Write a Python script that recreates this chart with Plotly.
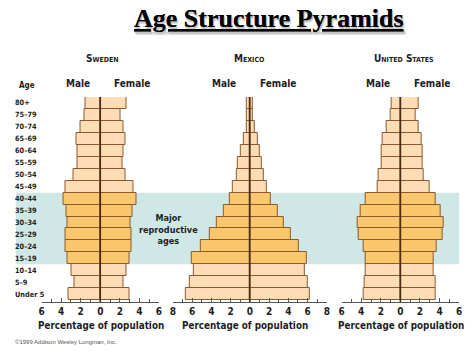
import plotly.graph_objects as go

# Age groups, listed from oldest (top) to youngest (bottom)
ages = ["80+", "75\u201379", "70\u201374", "65\u201369", "60\u201364", "55\u201359",
        "50\u201354", "45\u201349", "40\u201344", "35\u201339", "30\u201334", "25\u201329",
        "20\u201324", "15\u201319", "10\u201314", "5\u20139", "Under 5"]

# Percentage of population in each age group
sweden_male = [1.5, 1.6, 2.0, 2.4, 2.3, 2.3, 2.7, 3.6, 3.8, 3.4, 3.3, 3.5, 3.5, 3.3, 2.9, 2.6, 3.2]
sweden_female = [2.7, 2.1, 2.4, 2.6, 2.4, 2.3, 2.6, 3.4, 3.7, 3.3, 3.1, 3.2, 3.2, 3.0, 2.7, 2.4, 3.0]

mexico_male = [0.3, 0.3, 0.35, 0.65, 0.9, 1.2, 1.4, 1.75, 2.1, 2.7, 3.45, 4.2, 5.1, 6.0, 5.85, 6.25, 6.65]
mexico_female = [0.35, 0.35, 0.5, 0.85, 1.0, 1.25, 1.5, 1.8, 2.2, 2.9, 3.5, 4.3, 5.05, 5.9, 5.7, 6.0, 6.25]

us_male = [0.85, 0.95, 1.4, 1.8, 1.95, 1.95, 2.2, 2.3, 3.5, 4.1, 4.4, 4.25, 3.8, 3.55, 3.5, 3.65, 3.75]
us_female = [1.9, 1.6, 1.85, 2.2, 2.3, 2.25, 2.4, 2.95, 3.65, 4.1, 4.45, 4.35, 3.75, 3.35, 3.35, 3.6, 3.6]

countries = ["Sweden", "Mexico", "United States"]
axis_limits = [6, 8, 6]
tick_values = [[-6, -4, -2, 0, 2, 4, 6], [-8, -6, -4, -2, 0, 2, 4, 6, 8], [-6, -4, -2, 0, 2, 4, 6]]

reproductive = ["40\u201344", "35\u201339", "30\u201334", "25\u201329", "20\u201324", "15\u201319"]

W, H = 474, 355
FONT = "DejaVu Sans Condensed, DejaVu Sans, sans-serif"
INK = "#1e1e1e"
PEACH = "#fddcb6"
ORANGE = "#fbc76c"
BAND = "#cfe7e5"
EDGE = "#8a5a2e"
SPINE = "#4a2a10"

# panel horizontal extents in pixels
panel_px = [(39, 158), (172, 328), (343, 462)]
y_top_px, y_bot_px = 97, 302


def px_x(p):
    return p / W


def px_y(p):
    return 1 - p / H


colors = [ORANGE if a in reproductive else PEACH for a in ages]
data = [(sweden_male, sweden_female), (mexico_male, mexico_female), (us_male, us_female)]

fig = go.Figure()
for i, (male, female) in enumerate(data):
    suffix = "" if i == 0 else str(i + 1)
    fig.add_trace(go.Bar(y=ages, x=[-v for v in male], orientation="h",
                         marker=dict(color=colors, line=dict(color=EDGE, width=1)),
                         xaxis="x" + suffix, yaxis="y" + suffix, showlegend=False,
                         hoverinfo="skip"))
    fig.add_trace(go.Bar(y=ages, x=female, orientation="h",
                         marker=dict(color=colors, line=dict(color=EDGE, width=1)),
                         xaxis="x" + suffix, yaxis="y" + suffix, showlegend=False,
                         hoverinfo="skip"))

layout = dict(width=W, height=H, margin=dict(l=0, r=0, t=0, b=0),
              paper_bgcolor="white", plot_bgcolor="rgba(0,0,0,0)",
              barmode="relative", bargap=0, font=dict(family=FONT, color=INK))

for i in range(3):
    suffix = "" if i == 0 else str(i + 1)
    lim = axis_limits[i]
    x0, x1 = panel_px[i]
    layout["xaxis" + suffix] = dict(
        domain=[px_x(x0), px_x(x1)], range=[-lim, lim], anchor="y" + suffix,
        tickvals=tick_values[i], ticktext=[str(abs(v)) for v in tick_values[i]],
        ticks="inside", ticklen=4, tickcolor="#555", tickwidth=1,
        minor=dict(dtick=1, ticks="inside", ticklen=3, tickcolor="#555"),
        showline=True, linecolor="#555", linewidth=1, showgrid=False, zeroline=False,
        tickfont=dict(size=10, family=FONT, color=INK, weight="bold"), fixedrange=True)
    layout["yaxis" + suffix] = dict(
        domain=[px_y(y_bot_px), px_y(y_top_px)], type="category",
        categoryarray=ages[::-1], range=[-0.65, 16.5], anchor="x" + suffix,
        showticklabels=False, showgrid=False, zeroline=False, showline=False,
        fixedrange=True)
fig.update_layout(**layout)

shapes = []
# reproductive-age band spanning all three panels
lo = ages[::-1].index("15\u201319") - 0.5
hi = ages[::-1].index("40\u201344") + 0.5
shapes.append(dict(type="rect", xref="paper", yref="y", x0=px_x(13), x1=px_x(462),
                   y0=lo, y1=hi, fillcolor=BAND, line=dict(width=0), layer="below"))
for i in range(3):
    suffix = "" if i == 0 else str(i + 1)
    shapes.append(dict(type="line", xref="x" + suffix, yref="y" + suffix + " domain",
                       x0=0, x1=0, y0=0, y1=1, line=dict(color=SPINE, width=1.6)))
fig.update_layout(shapes=shapes)

ann = []
ann.append(dict(text="<b>Age Structure Pyramids</b>", x=px_x(269), y=px_y(18),
                xref="paper", yref="paper", showarrow=False, xanchor="center", yanchor="middle",
                font=dict(family="Liberation Serif, Times New Roman, serif", size=26, color="black",
                          lineposition="under", shadow="1px 1.5px 1px #c4c4c4")))

male_x = [(76, 131), (224, 279), (380, 435)]
title_x = [101, 250, 406]
pct_x = [99, 245, 403]
for i in range(3):
    ann.append(dict(text="<b>" + countries[i] + "</b>", x=px_x(title_x[i]), y=px_y(58),
                    xref="paper", yref="paper", showarrow=False, xanchor="center",
                    yanchor="middle", font=dict(size=10, color=INK, variant="small-caps")))
    ann.append(dict(text="<b>Male</b>", x=px_x(male_x[i][0]), y=px_y(83),
                    xref="paper", yref="paper", showarrow=False, xanchor="center",
                    yanchor="middle", font=dict(size=10, color=INK)))
    ann.append(dict(text="<b>Female</b>", x=px_x(male_x[i][1]), y=px_y(83),
                    xref="paper", yref="paper", showarrow=False, xanchor="center",
                    yanchor="middle", font=dict(size=10, color=INK)))
    ann.append(dict(text="<b>Percentage of population</b>", x=px_x(pct_x[i]), y=px_y(325),
                    xref="paper", yref="paper", showarrow=False, xanchor="center",
                    yanchor="middle", font=dict(size=9.8, color=INK)))

ann.append(dict(text="<b>Age</b>", x=px_x(14), y=px_y(85), xref="paper", yref="paper",
                showarrow=False, xanchor="left", yanchor="middle", font=dict(size=8, color=INK)))
for a in ages:
    ann.append(dict(text="<b>" + a + "</b>", x=px_x(10), y=a, xref="paper", yref="y",
                    showarrow=False, xanchor="left", yanchor="middle",
                    font=dict(size=7.3, color=INK)))

ann.append(dict(text="<b>Major<br>reproductive<br>ages</b>", x=px_x(168), y=px_y(229),
                xref="paper", yref="paper", showarrow=False, xanchor="center", yanchor="middle",
                align="center", font=dict(size=9, color=INK)))
ann.append(dict(text="\u00a91999 Addison Wesley Longman, Inc.", x=px_x(10), y=px_y(342),
                xref="paper", yref="paper", showarrow=False, xanchor="left", yanchor="middle",
                font=dict(size=6, color="#555", family="Liberation Sans, Arial, sans-serif")))
fig.update_layout(annotations=ann)

fig.write_html("out.html")
